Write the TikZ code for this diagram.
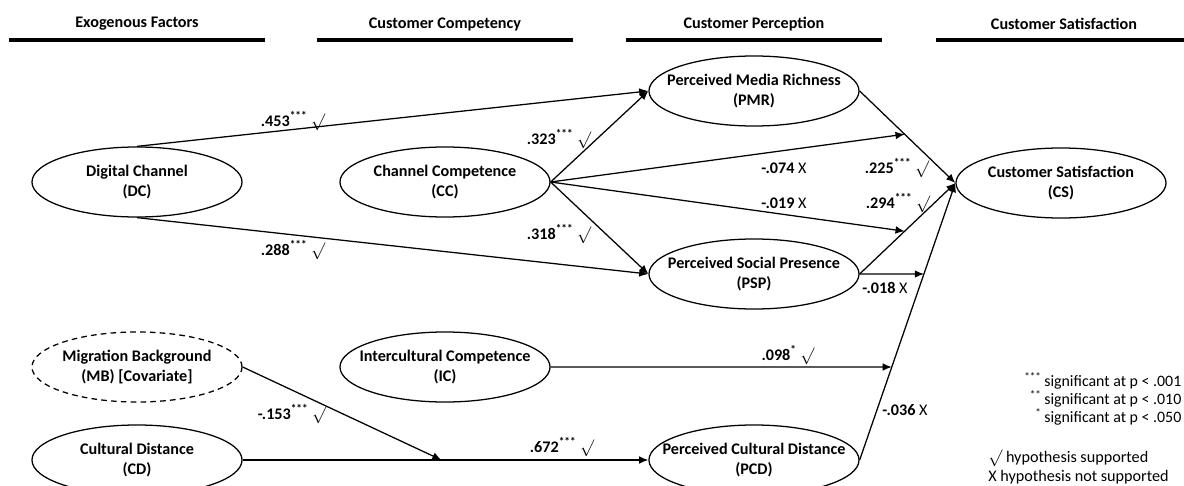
\documentclass[tikz,border=0pt]{standalone}
\usepackage{fontspec}
\setmainfont{Carlito}
\usetikzlibrary{shapes.geometric, arrows.meta, calc}

\newcommand{\hypyes}{\textmd{$\surd$}}
\newcommand{\hypno}{\textmd{X}}
\newcommand{\sig}[1]{\textsuperscript{#1}}

\tikzset{
    construct/.style={draw, ellipse, line width=0.9pt, minimum width=5.25cm, minimum height=1.75cm,
        inner xsep=-14pt, inner ysep=0pt, align=center, font=\fontsize{11.5}{14.5}\selectfont\bfseries},
    covariate/.style={construct, dash pattern=on 4pt off 3pt},
    effect/.style={line width=0.9pt, -{Latex[length=6.5pt,width=5.5pt]}},
    coef/.style={font=\fontsize{11.5}{13}\selectfont\bfseries},
    header/.style={font=\fontsize{11.5}{13}\selectfont\bfseries},
}

\begin{document}
\begin{tikzpicture}[x=0.025cm, y=-0.025cm]
    \useasboundingbox (0,0) rectangle (1184,486);

    % Column headers
    \foreach \cx/\title in {137/Exogenous Factors, 445/Customer Competency, 754/Customer Perception, 1064/Customer Satisfaction} {
        \node[header] at (\cx,24) {\title};
        \draw[line width=2.5pt] (\cx-128,40) -- (\cx+128,40);
    }

    % Constructs
    \node[construct] (dc) at (137,182) {Digital Channel\\(DC)};
    \node[construct] (cc) at (445,182) {Channel Competence\\(CC)};
    \node[construct] (pmr) at (754,91) {Perceived Media Richness\\(PMR)};
    \node[construct] (psp) at (754,274) {Perceived Social Presence\\(PSP)};
    \node[construct] (cs) at (1061,183) {Customer Satisfaction\\(CS)};
    \node[covariate] (mb) at (137,367) {Migration Background\\(MB) [Covariate]};
    \node[construct] (ic) at (445,367) {Intercultural Competence\\(IC)};
    \node[construct] (cd) at (137,460) {Cultural Distance\\(CD)};
    \node[construct] (pcd) at (754,460) {Perceived Cultural Distance\\(PCD)};

    % Points where paths meet other paths
    \coordinate (pmrcs) at ($(pmr.east)!0.47!(cs.west)$);
    \coordinate (pspcs) at ($(psp.east)!0.47!(cs.west)$);
    \coordinate (pspx) at ($(psp.east)+(200,0)$);
    \coordinate (icx) at ($(ic.east)+(600,0)$);
    \coordinate (pcdcs1) at (intersection of pcd.east--cs.west and psp.east--pspx);
    \coordinate (pcdcs2) at (intersection of pcd.east--cs.west and ic.east--icx);
    \coordinate (cdpcd) at ($(cd.east)!0.49!(pcd.west)$);

    % Structural paths
    \draw[effect] (dc.north) -- (pmr.west);
    \draw[effect] (dc.south) -- (psp.west);
    \draw[effect] (cc.east) -- (pmr.west);
    \draw[effect] (cc.east) -- (psp.west);
    \draw[effect] (cc.east) -- (pmrcs);
    \draw[effect] (cc.east) -- (pspcs);
    \draw[effect] (pmr.east) -- (cs.west);
    \draw[effect] (psp.east) -- (cs.west);
    \draw[effect] (pcd.east) -- (cs.west);
    \draw[effect] (psp.east) -- (pcdcs1);
    \draw[effect] (ic.east) -- (pcdcs2);
    \draw[effect] (cd.east) -- (pcd.west);
    \draw[effect] (mb.east) -- (cdpcd);

    % Path coefficients
    \node[coef] (c453) at (293,121) {.453\sig{***} \hypyes};
    \node[coef] (c288) at (293,250) {.288\sig{***} \hypyes};
    \node[coef] (c323) at (559,139) {.323\sig{***} \hypyes};
    \node[coef] (c318) at (559,234) {.318\sig{***} \hypyes};
    \node[coef] (c074) at (784,168) {-.074 \hypno};
    \node[coef] (c019) at (784,203) {-.019 \hypno};
    \node[coef] (c225) at (897,168) {.225\sig{***} \hypyes};
    \node[coef] (c294) at (898,203) {.294\sig{***} \hypyes};
    \node[coef] (c018) at (885,288) {-.018 \hypno};
    \node[coef] (c098) at (788,355) {.098\sig{*} \hypyes};
    \node[coef] (c036) at (905,410) {-.036 \hypno};
    \node[coef] (c153) at (292,414) {-.153\sig{***} \hypyes};
    \node[coef] (c672) at (562,447) {.672\sig{***} \hypyes};

    % Legend
    \node[anchor=west, align=left, inner sep=0pt, font=\fontsize{11.3}{12.8}\selectfont] (sigkey) at (1044,399)
        {\llap{\sig{***}\,}significant at p < .001\\
         \llap{\sig{**}\,}significant at p < .010\\
         \llap{\sig{*}\,}significant at p < .050};
    \node[anchor=west, align=left, inner sep=0pt, font=\fontsize{11.5}{13.5}\selectfont] (hypkey) at (988,467)
        {$\surd$ hypothesis supported\\X hypothesis not supported};
\end{tikzpicture}
\end{document}
